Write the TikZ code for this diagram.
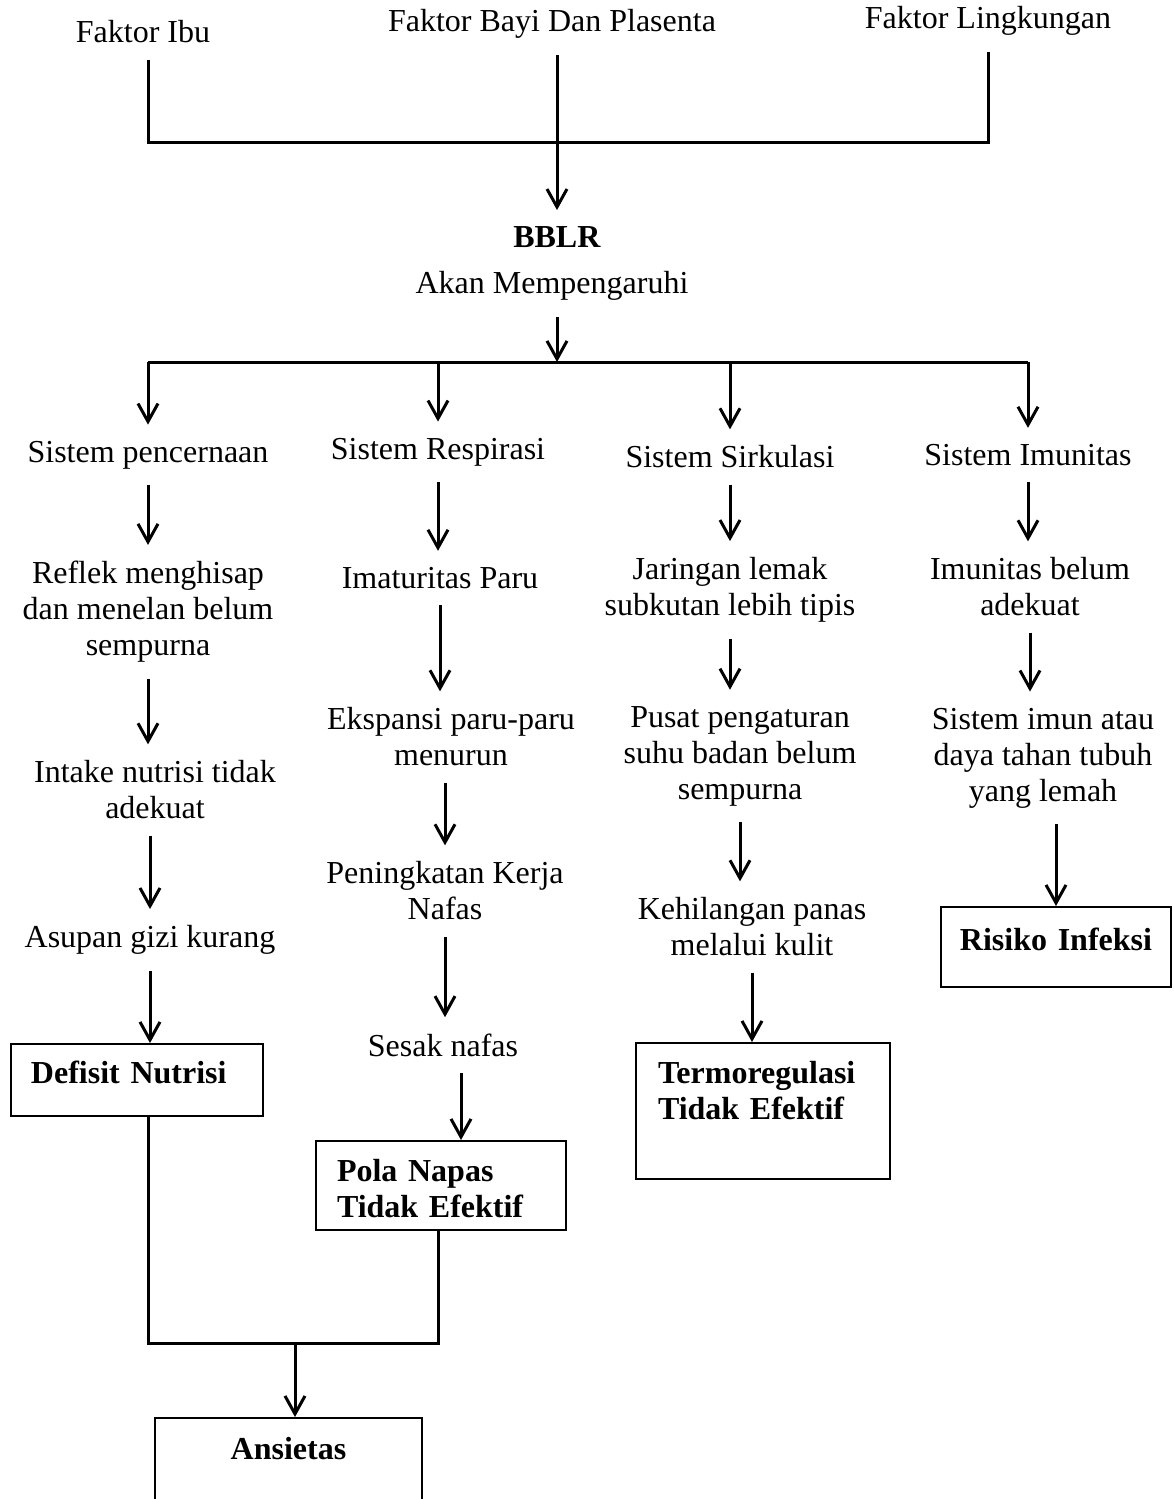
\documentclass[tikz,border=0pt]{standalone}
\usepackage{fontspec}
\setmainfont{Liberation Serif}
\usetikzlibrary{arrows.meta}

\tikzset{
  every node/.style={font=\fontsize{16pt}{18pt}\selectfont},
  lbl/.style={align=center, inner xsep=0pt, inner ysep=8pt},
  dxbox/.style={draw, line width=1pt, anchor=north west, inner xsep=10pt, inner ysep=0pt,
    align=left, font=\fontsize{16pt}{18pt}\selectfont\bfseries},
  conn/.style={line width=1.5pt},
  arr/.style={line width=1.5pt, -{Straight Barb[length=9pt,width=10pt]}},
}

\begin{document}
\begin{tikzpicture}[x=0.5pt, y=-0.5pt]
    \clip (0,0) rectangle (1173,1499);

    \node [lbl] (ibu) at (143,32) {Faktor Ibu};
    \node [lbl] (bayi) at (552,24) {Faktor Bayi Dan Plasenta};
    \node [lbl] (ling) at (988,21) {Faktor Lingkungan};
    \coordinate (jtop) at (557,142);
    \node [lbl] (bblr) at (557,237) {\textbf{BBLR}};
    \node [lbl] (akan) at (552,286) {Akan Mempengaruhi};
    \coordinate (jmid) at (557,362);

    \node [lbl] (s1) at (148,455) {Sistem pencernaan};
    \node [lbl] (s2) at (438,452) {Sistem Respirasi};
    \node [lbl] (s3) at (730,457) {Sistem Sirkulasi};
    \node [lbl] (s4) at (1028,455) {Sistem Imunitas};

    \node [lbl] (c1a) at (148,612) {Reflek menghisap\\dan menelan belum\\sempurna};
    \node [lbl] (c1b) at (155,790) {Intake nutrisi tidak\\adekuat};
    \node [lbl] (c1c) at (150,940) {Asupan gizi kurang};
    \node [dxbox, text width=106pt, text height=19.5pt, text depth=16.5pt] (dn) at (10,1043) {Defisit Nutrisi};

    \node [lbl] (c2a) at (440,578) {Imaturitas Paru};
    \node [lbl] (c2b) at (451,737) {Ekspansi paru-paru\\menurun};
    \node [lbl] (c2c) at (445,891) {Peningkatan Kerja\\Nafas};
    \node [lbl] (c2d) at (443,1045) {Sesak nafas};
    \node [dxbox, inner xsep=10.5pt, text width=104pt, text height=20pt, text depth=24.5pt] (pn) at (315,1140) {Pola Napas\\Tidak Efektif};

    \node [lbl] (c3a) at (730,590) {Jaringan lemak\\subkutan lebih tipis};
    \node [lbl] (c3b) at (740,756) {Pusat pengaturan\\suhu badan belum\\sempurna};
    \node [lbl] (c3c) at (752,927) {Kehilangan panas\\melalui kulit};
    \node [dxbox, inner xsep=11pt, text width=105pt, text height=20pt, text depth=48pt] (tr) at (635,1042) {Termoregulasi\\Tidak Efektif};

    \node [lbl] (c4a) at (1030,587) {Imunitas belum\\adekuat};
    \node [lbl] (c4b) at (1043,758) {Sistem imun atau\\daya tahan tubuh\\yang lemah};
    \node [dxbox, align=center, inner xsep=2pt, text width=111pt, text height=21.5pt, text depth=18.5pt] (ri) at (940,906) {Risiko Infeksi};

    \coordinate (jbot) at (295,1343);
    \node [dxbox, align=center, text width=113.5pt, text height=20.5pt, text depth=60pt] (an) at (154,1417) {Ansietas};

    \draw [conn] (ibu.south -| s1) |- (jtop) -| (ling.south);
    \draw [arr] (bblr |- bayi.south) -- (bblr);
    \draw [arr] (akan.south -| jmid) -- (jmid);
    \draw [conn] (s1 |- jmid) -- (s4 |- jmid);
    \draw [arr] (s1 |- jmid) -- (s1);
    \draw [arr] (s2 |- jmid) -- (s2);
    \draw [arr] (s3 |- jmid) -- (s3);
    \draw [arr] (s4 |- jmid) -- (s4);

    \draw [arr] (s1) -- (s1 |- c1a.north);
    \draw [arr] (c1a) -- (c1a |- c1b.north);
    \draw [arr] (c1c |- c1b.south) -- (c1c);
    \draw [arr] (c1c) -- (c1c |- dn.north);

    \draw [arr] (s2) -- (s2 |- c2a.north);
    \draw [arr] (c2a) -- (c2a |- c2b.north);
    \draw [arr] (c2c |- c2b.south) -- (c2c);
    \draw [arr] (c2c) -- (c2c |- c2d.north);
    \draw [arr] ([xshift=9pt]c2d.south) -- ([xshift=9pt]c2d.south |- pn.north);

    \draw [arr] (s3) -- (s3 |- c3a.north);
    \draw [arr] (c3a) -- (c3a |- c3b.north);
    \draw [arr] (c3b) -- (c3b |- c3c.north);
    \draw [arr] (c3c) -- (c3c |- tr.north);

    \draw [arr] (s4) -- (s4 |- c4a.north);
    \draw [arr] (c4a) -- (c4a |- c4b.north);
    \draw [arr] (ri |- c4b.south) -- (ri);

    \draw [conn] (dn.south -| s1) |- (jbot) -| (pn.south -| s2);
    \draw [arr] (jbot) -- (jbot |- an.north);
\end{tikzpicture}
\end{document}
